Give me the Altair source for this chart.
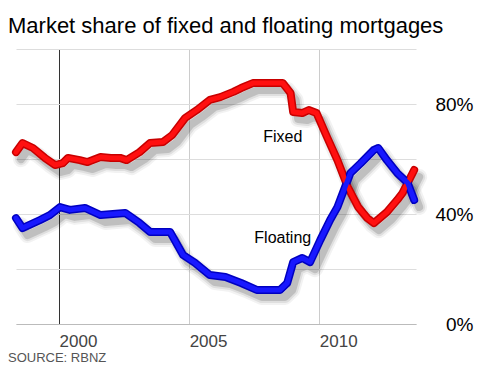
import altair as alt
import pandas as pd

# Data (share of mortgages, %)
fixed_years = [1998.35, 1998.6, 1999.0, 1999.46, 1999.85, 2000.15, 2000.35, 2000.8, 2001.1, 2001.6,
               2002.0, 2002.35, 2002.6, 2003.1, 2003.5, 2004.0, 2004.35, 2004.85, 2005.3, 2005.8,
               2006.2, 2006.7, 2007.0, 2007.45, 2008.1, 2008.6, 2008.9, 2009.0, 2009.35, 2009.6,
               2009.9, 2010.3, 2010.7, 2011.1, 2011.5, 2011.85, 2012.1, 2012.6, 2013.0, 2013.2, 2013.65]
fixed_share = [62.5, 65.8, 64.0, 60.4, 57.8, 58.5, 60.4, 59.6, 58.9, 60.7,
               60.4, 60.4, 59.6, 62.5, 65.8, 66.2, 68.7, 74.9, 77.8, 81.5,
               82.5, 84.4, 85.8, 87.6, 87.6, 87.6, 84.0, 77.1, 76.7, 77.8,
               76.7, 68.0, 59.6, 49.8, 42.5, 38.5, 36.7, 40.7, 45.1, 47.6, 56.0]

floating_years = [1998.35, 1998.6, 1999.27, 1999.65, 2000.04, 2000.42, 2001.0, 2001.6, 2002.55, 2003.1,
                  2003.5, 2004.27, 2004.77, 2005.23, 2005.8, 2006.4, 2007.0, 2007.6, 2008.5, 2008.77,
                  2009.0, 2009.35, 2009.65, 2010.04, 2010.42, 2010.7, 2011.2, 2011.6, 2012.1, 2012.27,
                  2012.6, 2013.0, 2013.4, 2013.65]
floating_share = [38.5, 34.9, 37.8, 39.6, 42.5, 41.5, 42.2, 39.6, 40.4, 36.7,
                  33.5, 33.5, 25.1, 22.2, 17.8, 17.1, 14.9, 12.4, 12.4, 14.9,
                  22.5, 24.0, 22.5, 30.5, 37.8, 42.5, 54.9, 58.5, 63.3, 64.0,
                  59.6, 54.9, 51.3, 45.1]

label_names = ["Fixed", "Floating"]
label_years = [2008.6, 2008.6]
label_share = [68.0, 31.3]

y_ticks = [0, 20, 40, 60, 80, 100]
x_ticks = [2000, 2005, 2010]

title_text = "Market share of fixed and floating mortgages"
source_text = "SOURCE: RBNZ"

FONT = "Liberation Sans, Arial, sans-serif"

df = pd.concat([
    pd.DataFrame({"year": fixed_years, "share": fixed_share, "type": "Fixed"}),
    pd.DataFrame({"year": floating_years, "share": floating_share, "type": "Floating"}),
])
labels = pd.DataFrame({"name": label_names, "year": label_years, "share": label_share})

xs = alt.Scale(domain=[1998.35, 2013.72], nice=False, zero=False)
ys = alt.Scale(domain=[0, 100], nice=False)

x_axis = alt.Axis(values=x_ticks, format="d", grid=True,
                  gridColor={"condition": {"test": "datum.value == 2000", "value": "#333333"}, "value": "#cccccc"},
                  gridWidth=1, ticks=False, domain=True, domainColor="#bbbbbb",
                  labelFont=FONT, labelFontSize=17, labelColor="#444444",
                  labelOffset=19, labelPadding=9, title=None)
y_axis = alt.Axis(values=y_ticks, orient="right", grid=True, gridColor="#dddddd",
                  ticks=False, domain=False,
                  labelExpr="datum.value % 40 == 0 ? datum.value + '%' : ''",
                  labelFont=FONT, labelFontSize=19, labelColor="#000000",
                  labelAlign="right", labelBaseline="middle", labelPadding=57, title=None)

base = alt.Chart(df)

enc = dict(
    x=alt.X("year:Q", scale=xs, axis=x_axis),
    y=alt.Y("share:Q", scale=ys, axis=y_axis),
    detail="type:N",
)

shadow_layers = []
for w, op in [(16, 0.05), (12, 0.08), (8, 0.14)]:
    shadow_layers.append(
        base.mark_line(color="black", strokeWidth=w, opacity=op, strokeCap="round",
                       strokeJoin="round", xOffset=5, yOffset=7).encode(**enc)
    )

color_outer = alt.Color("type:N", scale=alt.Scale(domain=["Fixed", "Floating"], range=["#c80000", "#0000c0"]), legend=None)
color_inner = alt.Color("type:N", scale=alt.Scale(domain=["Fixed", "Floating"], range=["#ff1010", "#1818ff"]), legend=None)

outer = base.mark_line(strokeWidth=8, strokeCap="round", strokeJoin="round").encode(
    x="year:Q", y="share:Q", color=color_outer)
inner = base.mark_line(strokeWidth=5, strokeCap="round", strokeJoin="round").encode(
    x="year:Q", y="share:Q", color=color_inner)

text = alt.Chart(labels).mark_text(font=FONT, fontSize=16, color="black", align="center",
                                   baseline="middle").encode(
    x="year:Q", y="share:Q", text="name:N")

title = alt.Chart(pd.DataFrame({"t": [title_text]})).mark_text(
    font=FONT, fontSize=22, color="black", align="left", baseline="alphabetic").encode(
    x=alt.value(-8), y=alt.value(-16), text="t:N")

source = alt.Chart(pd.DataFrame({"t": [source_text]})).mark_text(
    font=FONT, fontSize=13, color="#555555", align="left", baseline="alphabetic").encode(
    x=alt.value(-8), y=alt.value(313), text="t:N")

chart = alt.layer(*shadow_layers, outer, inner, text, title, source).resolve_scale(color="independent").properties(
    width=400, height=275,
    autosize=alt.AutoSizeParams(type="none"),
    padding={"left": 8, "top": 41, "right": 68, "bottom": 42},
).configure_view(strokeWidth=0)

chart.save("out.html", embed_options={"renderer": "svg", "actions": False})
